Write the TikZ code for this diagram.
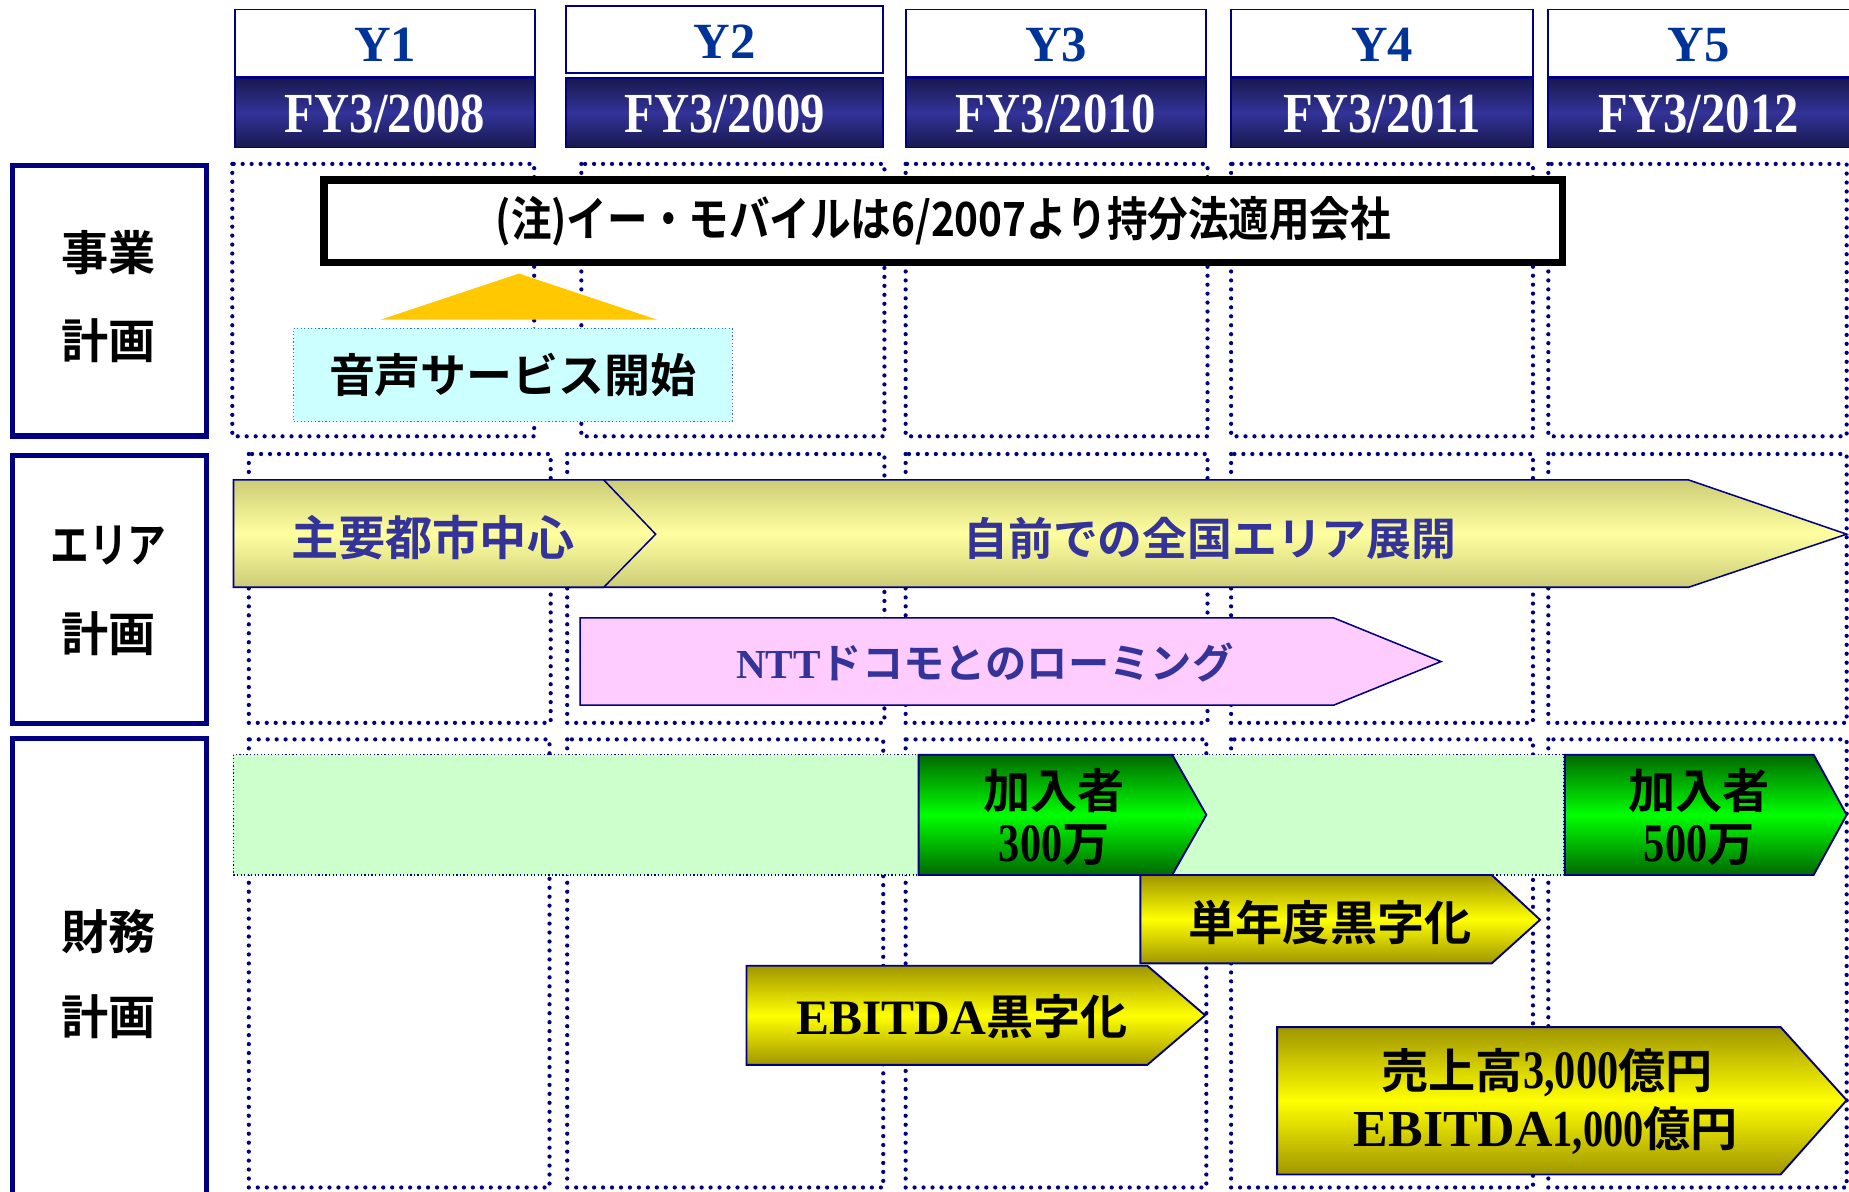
\documentclass[tikz,border=0pt]{standalone}
\usepackage{fontspec}
\usepackage{graphicx}
\newfontfamily\jpf{Noto Sans CJK JP Bold}
\newfontfamily\serf{Liberation Serif Bold}
\newcommand\cnd[2]{\scalebox{#1}[1]{#2}}
\definecolor{navy}{RGB}{0,0,128}
\definecolor{ylab}{RGB}{0,51,153}
\definecolor{hdark}{RGB}{24,24,78}
\definecolor{hmid}{RGB}{51,51,153}
\definecolor{indig}{RGB}{51,51,153}
\definecolor{khaki}{RGB}{204,204,119}
\definecolor{paley}{RGB}{255,255,160}
\definecolor{dgreen}{RGB}{0,105,0}
\definecolor{bgreen}{RGB}{0,255,0}
\definecolor{oliv}{RGB}{160,150,0}
\definecolor{byel}{RGB}{255,255,0}
\definecolor{lgreen}{RGB}{204,255,204}
\definecolor{lcyan}{RGB}{204,255,255}
\definecolor{lpink}{RGB}{255,204,255}
\definecolor{gold}{RGB}{255,200,0}
\definecolor{dotblue}{RGB}{60,100,230}
\tikzset{
  cell/.style={draw=navy, line width=3.6pt, dash pattern=on 0pt off 7.6pt, line cap=round},
  labbox/.style={draw=navy, line width=4.5pt, fill=white},
  hwhite/.style={draw=navy, line width=1.5pt, fill=white},
  hdarkbox/.style={draw=navy, line width=1.5pt, top color=hdark, bottom color=hdark, middle color=hmid},
  ytxt/.style={text=ylab, font=\serf\fontsize{43}{48}\selectfont, inner sep=0pt},
  fytxt/.style={text=white, font=\serf\fontsize{48}{52}\selectfont, inner sep=0pt},
  labtxt/.style={font=\jpf\fontsize{40}{46}\selectfont, inner sep=0pt},
  khakiarrow/.style={draw=navy, line width=1.3pt, top color=khaki, bottom color=khaki, middle color=paley},
  greenarrow/.style={draw=navy, line width=1.6pt, top color=dgreen, bottom color=dgreen, middle color=bgreen},
  yelarrow/.style={draw=navy, line width=1.6pt, top color=oliv, bottom color=oliv, middle color=byel},
  pinkarrow/.style={draw=navy, line width=1.3pt, fill=lpink},
  bluetxt/.style={text=indig, font=\jpf\fontsize{39}{46}\selectfont, inner sep=0pt},
  blktxt/.style={text=black, font=\jpf\fontsize{40}{46}\selectfont, inner sep=0pt},
  notebox/.style={draw=black, line width=6.5pt, fill=white, minimum width=1050pt, minimum height=70pt, inner sep=0pt,
     font=\jpf\fontsize{40}{46}\selectfont},
  voicebox/.style={draw=dotblue, line width=1pt, dotted, fill=lcyan, minimum width=372pt, minimum height=79pt, inner sep=0pt,
     font=\jpf\fontsize{39}{46}\selectfont},
  band/.style={draw=navy, line width=1pt, dotted, fill=lgreen}
}
\begin{document}
\begin{tikzpicture}[x=1pt,y=-1pt]
\useasboundingbox (0,0) rectangle (1568,1010);
\clip (0,0) rectangle (1568,1010);

% dotted grid cells
\foreach \a/\b in {197/453,493/750,768/1024,1044/1300,1313/1566}
  \draw[cell] (\a,139) rectangle (\b,370);
\foreach \a/\b in {211/467,481/750,768/1024,1044/1300,1313/1566}
  \draw[cell] (\a,385) rectangle (\b,613);
\foreach \a/\b in {211/466,481/749,768/1023,1044/1300,1313/1566}
  \draw[cell] (\a,627) rectangle (\b,1007);

% year headers
\draw[hwhite] (199,8) rectangle (454,65);
\draw[hdarkbox] (199,66) rectangle (454,125);
\node[ytxt] (y1) at (326.5,38) {Y1};
\node[fytxt] (fy1) at (326.5,97) {\cnd{0.86}{FY3/2008}};

\draw[hwhite] (480,5) rectangle (749,62);
\draw[hdarkbox] (480,66) rectangle (749,125);
\node[ytxt] (y2) at (614.5,35) {Y2};
\node[fytxt] (fy2) at (614.5,97) {\cnd{0.86}{FY3/2009}};

\draw[hwhite] (768,8) rectangle (1023,65);
\draw[hdarkbox] (768,66) rectangle (1023,125);
\node[ytxt] (y3) at (895.5,38) {Y3};
\node[fytxt] (fy3) at (895.5,97) {\cnd{0.86}{FY3/2010}};

\draw[hwhite] (1044,8) rectangle (1300,65);
\draw[hdarkbox] (1044,66) rectangle (1300,125);
\node[ytxt] (y4) at (1172,38) {Y4};
\node[fytxt] (fy4) at (1172,97) {\cnd{0.86}{FY3/2011}};

\draw[hwhite] (1313,8) rectangle (1580,65);
\draw[hdarkbox] (1313,66) rectangle (1580,125);
\node[ytxt] (y5) at (1440.5,38) {Y5};
\node[fytxt] (fy5) at (1440.5,97) {\cnd{0.86}{FY3/2012}};

% row labels
\draw[labbox] (10.7,140.3) rectangle (175.2,369.7);
\node[labtxt] (l1a) at (92,214) {事業};
\node[labtxt] (l1b) at (92,289) {計画};
\draw[labbox] (10.7,386.3) rectangle (175.2,613.7);
\node[labtxt] (l2a) at (92,463) {\cnd{0.82}{エリア}};
\node[labtxt] (l2b) at (92,537) {計画};
\draw[labbox] (10.7,626.3) rectangle (175.2,1030);
\node[labtxt] (l3a) at (92,790) {財務};
\node[labtxt] (l3b) at (92,862) {計画};

% row 1: business plan
\node[notebox] (note) at (800,187.5) {\cnd{0.86}{(注)イー・モバイルは6/2007より持分法適用会社}};
\node[voicebox] (voice) at (435,318) {音声サービス開始};
\fill[gold] (323,271) -- (440,232) -- (557,271) -- cycle;

% row 2: area plan
\draw[khakiarrow] (480,407) -- (1432,407) -- (1566,453) -- (1432,498) -- (480,498) -- cycle;
\draw[khakiarrow] (198,407) -- (512,407) -- (556,453) -- (512,498) -- (198,498) -- cycle;
\node[bluetxt, font=\jpf\fontsize{40}{46}\selectfont] (major) at (367,456) {主要都市中心};
\node[bluetxt, font=\jpf\fontsize{38}{46}\selectfont] (national) at (1026,457) {自前での全国エリア展開};
\draw[pinkarrow] (492,524) -- (1131,524) -- (1222,561) -- (1131,598) -- (492,598) -- cycle;
\node[bluetxt, font=\jpf\fontsize{35}{42}\selectfont] (roam) at (835,562) {{\serf NTT}ドコモとのローミング};

% row 3: financial plan
\draw[band] (198,640) rectangle (1326,742);
\draw[greenarrow] (779,640) -- (994,640) -- (1023,691) -- (994,742) -- (779,742) -- cycle;
\node[blktxt] (sub1a) at (894,670) {加入者};
\node[blktxt] (sub1b) at (894,717) {{\serf\fontsize{46}{50}\selectfont\cnd{0.78}{300}}万};
\draw[greenarrow] (1327,640) -- (1538,640) -- (1566,691) -- (1538,742) -- (1327,742) -- cycle;
\node[blktxt] (sub2a) at (1441,670) {加入者};
\node[blktxt] (sub2b) at (1441,717) {{\serf\fontsize{46}{50}\selectfont\cnd{0.78}{500}}万};

\draw[yelarrow] (967,742) -- (1265,742) -- (1306,780) -- (1265,817) -- (967,817) -- cycle;
\node[blktxt] (annual) at (1128,782) {単年度黒字化};
\draw[yelarrow] (633,819) -- (973,819) -- (1022,861) -- (973,903) -- (633,903) -- cycle;
\node[blktxt] (ebitda) at (816,862) {{\serf\fontsize{42}{46}\selectfont EBITDA}黒字化};
\draw[yelarrow] (1083,871) -- (1510,871) -- (1566,933) -- (1510,996) -- (1083,996) -- cycle;
\node[blktxt] (sales) at (1312,910) {売上高{\serf\fontsize{46}{50}\selectfont\cnd{0.78}{3,000}}億円};
\node[blktxt] (ebitdab) at (1311,959) {{\serf\fontsize{44}{50}\selectfont EBITDA\cnd{0.78}{1,000}}億円};
\end{tikzpicture}
\end{document}
